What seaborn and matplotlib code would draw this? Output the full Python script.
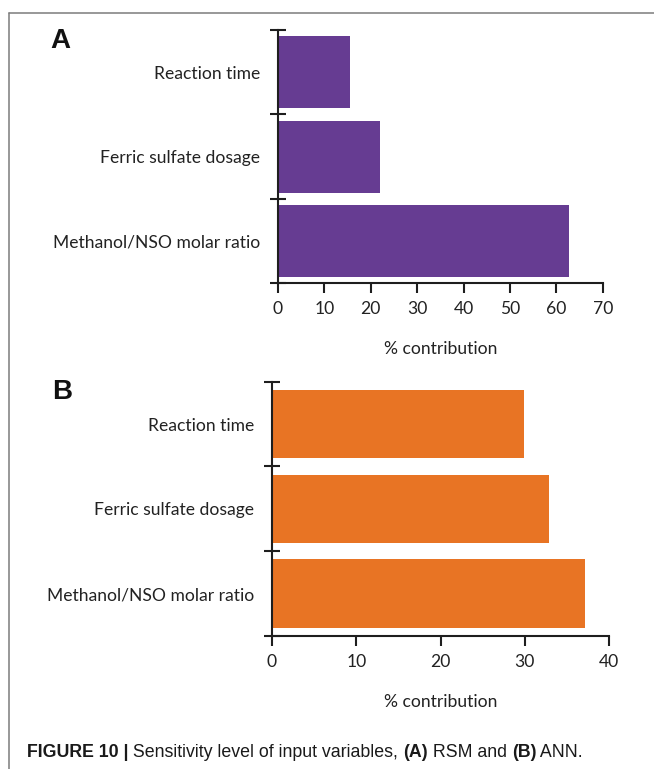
import matplotlib
matplotlib.use("Agg")
import matplotlib.pyplot as plt
import seaborn as sns
import pandas as pd
from matplotlib.lines import Line2D
from matplotlib import font_manager

categories = ["Reaction time", "Ferric sulfate dosage", "Methanol/NSO molar ratio"]
rsm_values = [15.5, 21.9, 62.7]
ann_values = [29.9, 32.9, 37.2]
rsm_xticks = [0, 10, 20, 30, 40, 50, 60, 70]
ann_xticks = [0, 10, 20, 30, 40]
xlabel = "% contribution"
caption_parts = [("FIGURE 10 |", "bold"), (" Sensitivity level of input variables, ", "normal"),
                 ("(A)", "bold"), (" RSM and ", "normal"), ("(B)", "bold"), (" ANN.", "normal")]

sns.set_theme(style="white")
plt.rcParams["font.family"] = ["Lato", "DejaVu Sans"]

W, H = 654, 769
fig = plt.figure(figsize=(W / 100, H / 100), dpi=100)


def rect(l, t, r, b):
    return [l / W, 1 - b / H, (r - l) / W, (b - t) / H]


axA = fig.add_axes(rect(278, 30, 602.7, 283.3))
axB = fig.add_axes(rect(272, 381.7, 609, 636))

AX_COLOR = "#1e1e1e"
FS = 12.6


def draw(ax, values, color, width, xticks):
    df = pd.DataFrame({"variable": categories, "contribution": values})
    sns.barplot(data=df, x="contribution", y="variable", order=categories, color=color,
                saturation=1, width=width, ax=ax, linewidth=0)
    ax.set_xlim(xticks[0], xticks[-1])
    ax.set_ylim(2.5, -0.5)
    ax.set_xticks(xticks)
    ax.set_xticklabels([str(t) for t in xticks])
    ax.set_yticks([-0.5, 0.5, 1.5, 2.5])
    ax.set_yticklabels([])
    ax.set_yticks(range(len(categories)), minor=True)
    ax.set_yticklabels(categories, minor=True)
    ax.tick_params(axis="y", which="minor", length=0, pad=13, labelsize=FS, labelcolor="#222")
    ax.tick_params(axis="y", which="major", direction="inout", length=12, width=1.5,
                   color=AX_COLOR, left=True)
    ax.tick_params(axis="x", direction="out", length=7, width=1.5, pad=6, labelsize=FS,
                   color=AX_COLOR, labelcolor="#222", bottom=True)
    for s in ["top", "right"]:
        ax.spines[s].set_visible(False)
    for s in ["left", "bottom"]:
        ax.spines[s].set_linewidth(1.5)
        ax.spines[s].set_color(AX_COLOR)
    ax.set_xlabel(xlabel, fontsize=FS, labelpad=17, color="#222")
    ax.set_ylabel("")
    ax.grid(False)


draw(axA, rsm_values, "#663C92", 0.855, rsm_xticks)
draw(axB, ann_values, "#E87424", 0.805, ann_xticks)

fig.text(50.5 / W, 1 - 48 / H, "A", fontsize=20, fontweight="bold", family="Liberation Sans",
         va="baseline", ha="left", color="#111")
fig.text(52 / W, 1 - 399 / H, "B", fontsize=20, fontweight="bold", family="Liberation Sans",
         va="baseline", ha="left", color="#111")

# frame lines
fig.add_artist(Line2D([9 / W, 654 / W], [1 - 13.3 / H] * 2, color="#7c7c7c", lw=1.1))
fig.add_artist(Line2D([9 / W, 9 / W], [1 - 13.3 / H, 0], color="#7c7c7c", lw=1.1))

# caption: condensed font if present, fitted to the reference width
names = {f.name for f in font_manager.fontManager.ttflist}
cap_family = "Liberation Sans Narrow" if "Liberation Sans Narrow" in names else "Liberation Sans"
renderer = fig.canvas.get_renderer()


def place_caption(size, x0=27.0):
    x = x0
    arts = []
    for txt, wt in caption_parts:
        t = fig.text(x / W, 1 - 757 / H, txt, fontsize=size, fontweight=wt, family=cap_family,
                     va="baseline", ha="left", color="#1a1a1a")
        x += t.get_window_extent(renderer=renderer).width
        arts.append(t)
    return arts, x - x0


arts, total = place_caption(11.0)
for a in arts:
    a.remove()
place_caption(11.0 * 556.0 / total)

fig.savefig("out.png", dpi=100)
